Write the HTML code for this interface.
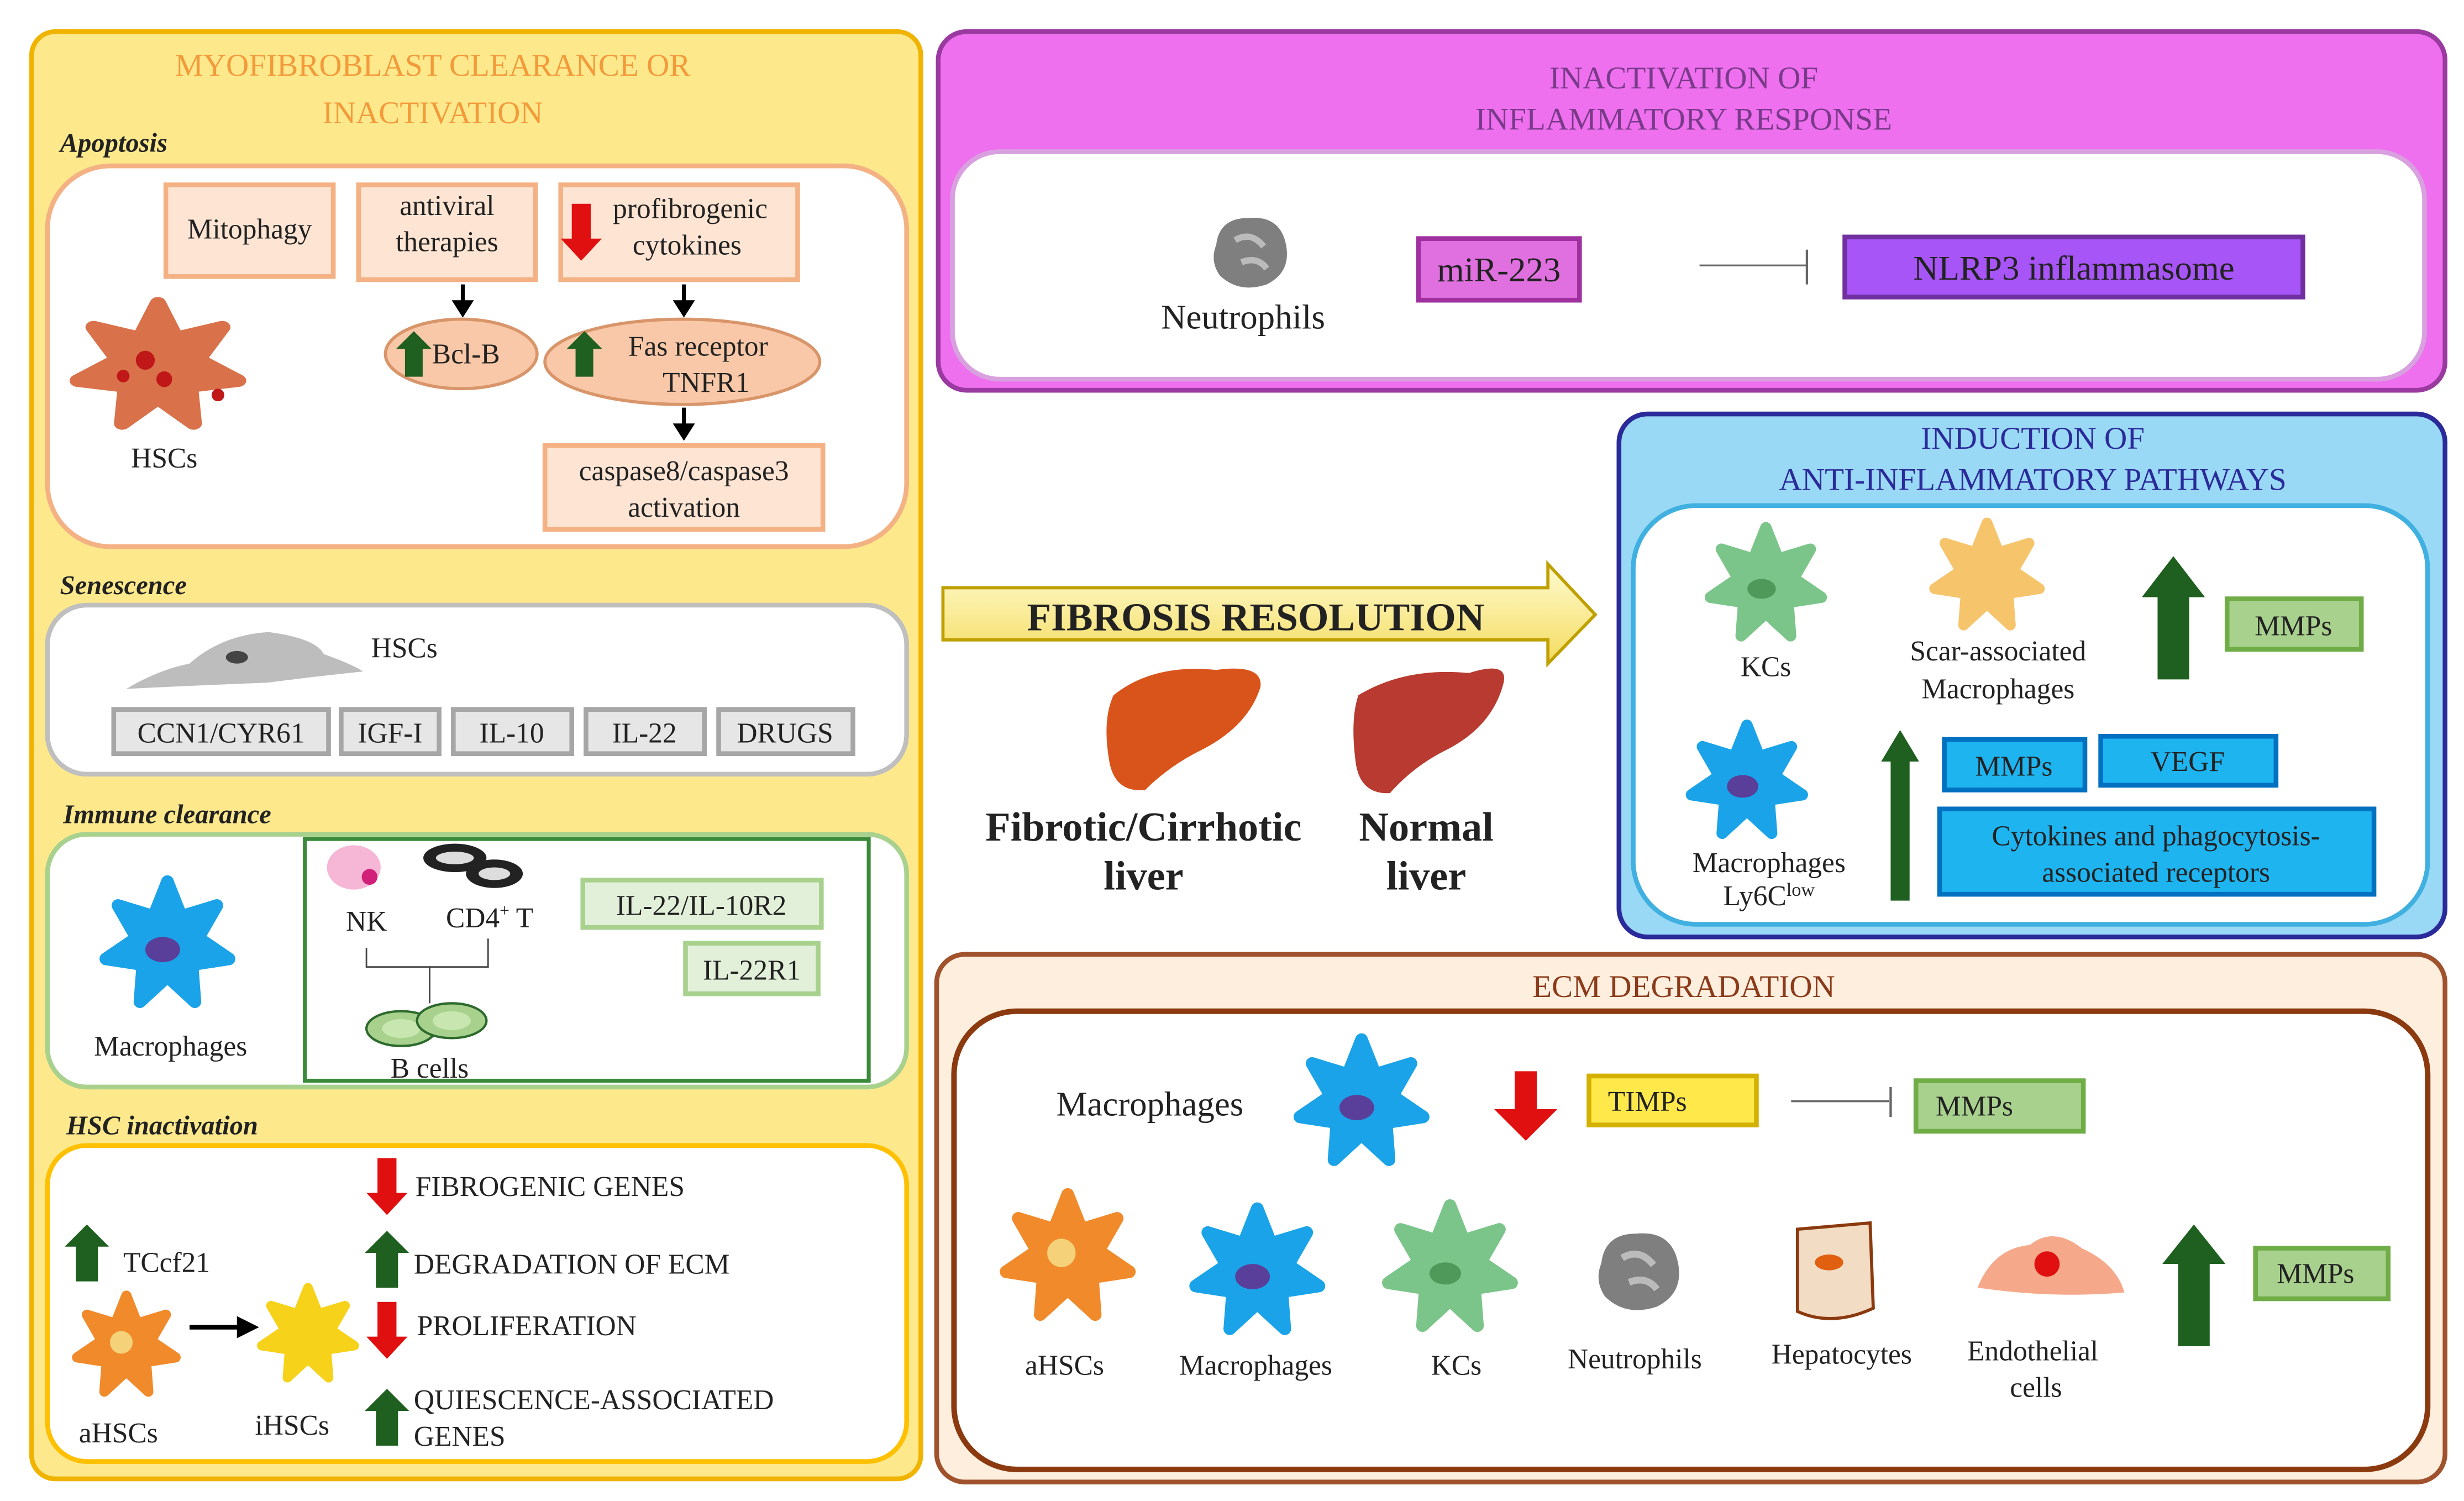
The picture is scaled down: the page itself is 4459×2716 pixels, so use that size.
<!DOCTYPE html>
<html><head><meta charset="utf-8"><style>
html,body{margin:0;padding:0;background:#fff;}
svg{display:block;}
text{font-family:"Liberation Serif",serif;fill:#222;}
</style></head><body>
<svg width="4459" height="2716" viewBox="0 0 1560 950" preserveAspectRatio="none" xmlns="http://www.w3.org/2000/svg">
<defs>
<g id="star"><polygon points="0,-40 8.7,-18 31.3,-24.9 19.5,-4.4 39,8.9 15.6,12.5 17.4,36 0,20 -17.4,36 -15.6,12.5 -39,8.9 -19.5,-4.4 -31.3,-24.9 -8.7,-18" stroke-width="8" stroke-linejoin="round"/></g>
<g id="blue"><use href="#star" fill="#1aa3e8" stroke="#1aa3e8"/><ellipse cx="-3" cy="3" rx="11" ry="8" fill="#5a3f9a"/></g>
<g id="green"><use href="#star" fill="#7cc58a" stroke="#7cc58a"/><ellipse cx="-3" cy="3" rx="10" ry="7" fill="#4f9a5a"/></g>
<g id="orange"><use href="#star" fill="#f08a2a" stroke="#f08a2a"/><circle cx="-4" cy="-3" r="9" fill="#f5d27a"/></g>
<g id="yel"><use href="#star" fill="#f6c46a" stroke="#f6c46a"/></g>
<g id="neu"><path d="M-22,-5 Q-20,-22 -2,-22 Q18,-24 22,-6 Q26,12 10,20 Q-8,26 -20,14 Q-26,5 -22,-5Z" fill="#7f7f7f"/><path d="M-10,-8 Q0,-14 8,-4 M-6,6 Q4,2 10,10" stroke="#bbb" stroke-width="4" fill="none"/></g>
<g id="up"><polygon points="-7,18 7,18 7,-4 14,-4 0,-18 -14,-4 -7,-4" fill="#1f5f1f"/></g>
<g id="down"><polygon points="-6,-18 6,-18 6,4 13,4 0,18 -13,4 -6,4" fill="#e01010"/></g>
</defs>

<!-- LEFT PANEL -->
<rect x="20" y="20" width="563" height="916" rx="15" fill="#fde98c" stroke="#f0b400" stroke-width="3"/>
<text x="274" y="48" text-anchor="middle" font-size="20" style="fill:#f39a3a">MYOFIBROBLAST CLEARANCE OR</text>
<text x="274" y="78" text-anchor="middle" font-size="20" style="fill:#f39a3a">INACTIVATION</text>
<text x="38" y="96" font-size="17" font-style="italic" font-weight="bold">Apoptosis</text>
<rect x="30" y="105" width="544" height="241" rx="40" fill="#fff" stroke="#f4b183" stroke-width="3"/>
<rect x="105" y="117" width="106" height="58" fill="#fde4d3" stroke="#f4b183" stroke-width="3"/>
<text x="158" y="151" text-anchor="middle" font-size="18">Mitophagy</text>
<rect x="227" y="117" width="112" height="60" fill="#fde4d3" stroke="#f4b183" stroke-width="3"/>
<text x="283" y="136" text-anchor="middle" font-size="18">antiviral</text>
<text x="283" y="159" text-anchor="middle" font-size="18">therapies</text>
<rect x="355" y="117" width="150" height="60" fill="#fde4d3" stroke="#f4b183" stroke-width="3"/>
<use href="#down" transform="translate(368,147)"/>
<text x="437" y="138" text-anchor="middle" font-size="18">profibrogenic</text>
<text x="435" y="161" text-anchor="middle" font-size="18">cytokines</text>
<ellipse cx="292" cy="224" rx="48" ry="22" fill="#f8c8a8" stroke="#d9956a" stroke-width="2"/>
<use href="#up" transform="translate(262,224) scale(0.8)"/>
<text x="295" y="230" text-anchor="middle" font-size="18">Bcl-B</text>
<ellipse cx="432" cy="229" rx="87" ry="27" fill="#f8c8a8" stroke="#d9956a" stroke-width="2"/>
<use href="#up" transform="translate(370,224) scale(0.8)"/>
<text x="442" y="225" text-anchor="middle" font-size="18">Fas receptor</text>
<text x="447" y="248" text-anchor="middle" font-size="18">TNFR1</text>
<g stroke="#000" stroke-width="2.5"><line x1="293" y1="180" x2="293" y2="192"/><line x1="433" y1="180" x2="433" y2="192"/><line x1="433" y1="258" x2="433" y2="270"/></g>
<polygon points="286,190 300,190 293,201" fill="#000"/><polygon points="426,190 440,190 433,201" fill="#000"/><polygon points="426,268 440,268 433,279" fill="#000"/>
<rect x="345" y="282" width="176" height="53" fill="#fde4d3" stroke="#f4b183" stroke-width="3"/>
<text x="433" y="304" text-anchor="middle" font-size="18">caspase8/caspase3</text>
<text x="433" y="327" text-anchor="middle" font-size="18">activation</text>
<use href="#star" transform="translate(100,232) scale(1.3,1.0)" fill="#d9714a" stroke="#d9714a"/>
<circle cx="92" cy="228" r="6" fill="#c01818"/><circle cx="104" cy="240" r="5" fill="#c01818"/><circle cx="78" cy="238" r="4" fill="#c01818"/><circle cx="138" cy="250" r="4" fill="#c01818"/>
<text x="104" y="296" text-anchor="middle" font-size="18">HSCs</text>

<text x="38" y="376" font-size="17" font-style="italic" font-weight="bold">Senescence</text>
<rect x="30" y="383" width="544" height="107" rx="25" fill="#fff" stroke="#bfbfbf" stroke-width="3"/>
<path d="M80,436 Q100,424 120,420 Q140,402 170,400 Q200,404 205,414 Q222,420 230,425 Q200,428 170,432 Q120,434 80,436Z" fill="#bdbdbd"/>
<ellipse cx="150" cy="416" rx="7" ry="4" fill="#444"/>
<text x="256" y="416" text-anchor="middle" font-size="18">HSCs</text>
<g fill="#e7e6e6" stroke="#a6a6a6" stroke-width="3">
<rect x="72" y="449" width="136" height="28"/><rect x="216" y="449" width="62" height="28"/><rect x="287" y="449" width="75" height="28"/><rect x="371" y="449" width="75" height="28"/><rect x="455" y="449" width="85" height="28"/></g>
<g font-size="18" text-anchor="middle"><text x="140" y="470">CCN1/CYR61</text><text x="247" y="470">IGF-I</text><text x="324" y="470">IL-10</text><text x="408" y="470">IL-22</text><text x="497" y="470">DRUGS</text></g>

<text x="40" y="521" font-size="17" font-style="italic" font-weight="bold">Immune clearance</text>
<rect x="30" y="528" width="544" height="160" rx="25" fill="#fff" stroke="#a9d18e" stroke-width="3"/>
<rect x="193" y="531" width="357" height="153" fill="#fff" stroke="#3a8a3a" stroke-width="2.5"/>
<use href="#blue" transform="translate(106,598)"/>
<text x="108" y="668" text-anchor="middle" font-size="18">Macrophages</text>
<ellipse cx="224" cy="549" rx="17" ry="14" fill="#f6b6d6"/><circle cx="234" cy="555" r="5" fill="#d0207a"/>
<text x="232" y="589" text-anchor="middle" font-size="18">NK</text>
<ellipse cx="288" cy="543" rx="20" ry="9" fill="#222"/><ellipse cx="288" cy="543" rx="12" ry="4" fill="#ddd"/>
<ellipse cx="313" cy="553" rx="18" ry="9" fill="#222"/><ellipse cx="313" cy="553" rx="10" ry="4" fill="#ddd"/>
<text x="310" y="587" text-anchor="middle" font-size="18">CD4<tspan font-size="11" dy="-7">+</tspan><tspan dy="7"> T</tspan></text>
<ellipse cx="254" cy="651" rx="22" ry="11" fill="#a9d18e" stroke="#2d6a2d" stroke-width="1.5"/><ellipse cx="254" cy="651" rx="12" ry="6" fill="#c8e6b0"/>
<ellipse cx="286" cy="646" rx="22" ry="11" fill="#a9d18e" stroke="#2d6a2d" stroke-width="1.5"/><ellipse cx="286" cy="646" rx="12" ry="6" fill="#c8e6b0"/>
<text x="272" y="682" text-anchor="middle" font-size="18">B cells</text>
<g stroke="#444" stroke-width="1" fill="none"><polyline points="272,635 272,612 232,612 232,600"/><polyline points="272,612 309,612 309,594"/></g>
<rect x="369" y="557" width="151" height="30" fill="#e2f0d9" stroke="#a9d18e" stroke-width="3"/>
<text x="444" y="579" text-anchor="middle" font-size="18">IL-22/IL-10R2</text>
<rect x="434" y="597" width="84" height="32" fill="#e2f0d9" stroke="#a9d18e" stroke-width="3"/>
<text x="476" y="620" text-anchor="middle" font-size="18">IL-22R1</text>

<text x="42" y="718" font-size="17" font-style="italic" font-weight="bold">HSC inactivation</text>
<rect x="30" y="725" width="544" height="200" rx="25" fill="#fff" stroke="#ffc000" stroke-width="3"/>
<use href="#down" transform="translate(245,751)"/>
<text x="263" y="757" font-size="18">FIBROGENIC GENES</text>
<use href="#up" transform="translate(245,797)"/>
<text x="262" y="806" font-size="18">DEGRADATION OF ECM</text>
<use href="#down" transform="translate(245,842)"/>
<text x="264" y="845" font-size="18">PROLIFERATION</text>
<use href="#up" transform="translate(245,897)"/>
<text x="262" y="892" font-size="18">QUIESCENCE-ASSOCIATED</text>
<text x="262" y="915" font-size="18">GENES</text>
<use href="#up" transform="translate(55,793)"/>
<text x="78" y="805" font-size="18">TCcf21</text>
<use href="#orange" transform="translate(80,852) scale(0.8)"/>
<line x1="120" y1="840" x2="152" y2="840" stroke="#000" stroke-width="3"/><polygon points="150,833 164,840 150,847" fill="#000"/>
<use href="#star" transform="translate(195,845) scale(0.75)" fill="#f6d21a" stroke="#f6d21a"/>
<text x="75" y="913" text-anchor="middle" font-size="18">aHSCs</text>
<text x="185" y="908" text-anchor="middle" font-size="18">iHSCs</text>

<!-- INFLAMMATORY -->
<rect x="594" y="20" width="954" height="227" rx="18" fill="#ee70ee" stroke="#9a3aa0" stroke-width="3"/>
<text x="1066" y="56" text-anchor="middle" font-size="20" style="fill:#7a3a8a">INACTIVATION OF</text>
<text x="1066" y="82" text-anchor="middle" font-size="20" style="fill:#7a3a8a">INFLAMMATORY RESPONSE</text>
<rect x="603" y="96" width="932" height="144" rx="30" fill="#fff" stroke="#d9a0e0" stroke-width="3"/>
<use href="#neu" transform="translate(792,160)"/>
<text x="787" y="208" text-anchor="middle" font-size="22">Neutrophils</text>
<rect x="898" y="151" width="102" height="39" fill="#e070e0" stroke="#a030a0" stroke-width="3"/>
<text x="949" y="178" text-anchor="middle" font-size="22">miR-223</text>
<line x1="1076" y1="168" x2="1144" y2="168" stroke="#666" stroke-width="1.2"/><line x1="1144" y1="158" x2="1144" y2="180" stroke="#666" stroke-width="1.5"/>
<rect x="1168" y="150" width="290" height="38" fill="#a855f7" stroke="#7030a0" stroke-width="3"/>
<text x="1313" y="177" text-anchor="middle" font-size="22">NLRP3 inflammasome</text>

<!-- FIBROSIS RESOLUTION -->
<defs><linearGradient id="yg" x1="0" y1="0" x2="0" y2="1"><stop offset="0" stop-color="#fffbd0"/><stop offset="1" stop-color="#f4dc60"/></linearGradient></defs>
<polygon points="597,372 980,372 980,357 1010,389 980,420 980,405 597,405" fill="url(#yg)" stroke="#c0a000" stroke-width="2"/>
<text x="795" y="399" text-anchor="middle" font-size="25" font-weight="bold">FIBROSIS RESOLUTION</text>
<path d="M705,440 Q730,420 770,424 Q800,420 798,435 Q790,460 760,475 Q740,485 725,500 Q705,502 702,480 Q698,455 705,440Z" fill="#d9541a"/>
<path d="M860,440 Q890,422 930,426 Q955,418 952,432 Q945,460 915,475 Q895,485 880,502 Q860,503 858,480 Q855,455 860,440Z" fill="#b83a30"/>
<text x="724" y="532" text-anchor="middle" font-size="26" font-weight="bold">Fibrotic/Cirrhotic</text>
<text x="724" y="563" text-anchor="middle" font-size="26" font-weight="bold">liver</text>
<text x="903" y="532" text-anchor="middle" font-size="26" font-weight="bold">Normal</text>
<text x="903" y="563" text-anchor="middle" font-size="26" font-weight="bold">liver</text>

<!-- ANTI-INFLAMMATORY -->
<rect x="1025" y="262" width="523" height="331" rx="18" fill="#9ad9f5" stroke="#2a2a9a" stroke-width="3"/>
<text x="1287" y="284" text-anchor="middle" font-size="20" style="fill:#2a2a9a">INDUCTION OF</text>
<text x="1287" y="310" text-anchor="middle" font-size="20" style="fill:#2a2a9a">ANTI-INFLAMMATORY PATHWAYS</text>
<rect x="1034" y="320" width="503" height="265" rx="40" fill="#fff" stroke="#40b0e0" stroke-width="3"/>
<use href="#green" transform="translate(1118,370) scale(0.9)"/>
<text x="1118" y="428" text-anchor="middle" font-size="18">KCs</text>
<use href="#yel" transform="translate(1258,365) scale(0.85)"/>
<text x="1265" y="418" text-anchor="middle" font-size="18">Scar-associated</text>
<text x="1265" y="442" text-anchor="middle" font-size="18">Macrophages</text>
<polygon points="1366,430 1386,430 1386,378 1396,378 1376,352 1356,378 1366,378" fill="#1f5f1f"/>
<rect x="1410" y="379" width="85" height="32" fill="#a9d18e" stroke="#70ad47" stroke-width="3"/>
<text x="1452" y="402" text-anchor="middle" font-size="18">MMPs</text>
<use href="#blue" transform="translate(1106,495) scale(0.9)"/>
<text x="1120" y="552" text-anchor="middle" font-size="18">Macrophages</text>
<text x="1120" y="573" text-anchor="middle" font-size="18">Ly6C<tspan font-size="12" dy="-6">low</tspan></text>
<polygon points="1197,570 1209,570 1209,482 1215,482 1203,462 1191,482 1197,482" fill="#1f5f1f"/>
<rect x="1231" y="468" width="89" height="32" fill="#1eb4f0" stroke="#0070c0" stroke-width="3"/>
<text x="1275" y="491" text-anchor="middle" font-size="18">MMPs</text>
<rect x="1330" y="466" width="111" height="31" fill="#1eb4f0" stroke="#0070c0" stroke-width="3"/>
<text x="1385" y="488" text-anchor="middle" font-size="18">VEGF</text>
<rect x="1228" y="512" width="275" height="54" fill="#1eb4f0" stroke="#0070c0" stroke-width="3"/>
<text x="1365" y="535" text-anchor="middle" font-size="18">Cytokines and  phagocytosis-</text>
<text x="1365" y="558" text-anchor="middle" font-size="18">associated receptors</text>

<!-- ECM -->
<rect x="593" y="604" width="955" height="334" rx="18" fill="#fdeede" stroke="#a0522d" stroke-width="3"/>
<text x="1066" y="631" text-anchor="middle" font-size="20" style="fill:#8b3a1a">ECM DEGRADATION</text>
<rect x="604" y="640" width="933" height="290" rx="40" fill="#fff" stroke="#8b3a0f" stroke-width="3.5"/>
<text x="728" y="706" text-anchor="middle" font-size="22">Macrophages</text>
<use href="#blue" transform="translate(862,698)"/>
<polygon points="959,678 973,678 973,702 986,702 966,722 946,702 959,702" fill="#e01010"/>
<rect x="1006" y="681" width="106" height="31" fill="#ffe84a" stroke="#d4b000" stroke-width="3"/>
<text x="1043" y="703" text-anchor="middle" font-size="18">TIMPs</text>
<line x1="1134" y1="697" x2="1196" y2="697" stroke="#666" stroke-width="1.2"/><line x1="1197" y1="688" x2="1197" y2="707" stroke="#666" stroke-width="1.5"/>
<rect x="1213" y="684" width="106" height="32" fill="#a9d18e" stroke="#70ad47" stroke-width="3"/>
<text x="1250" y="706" text-anchor="middle" font-size="18">MMPs</text>
<use href="#orange" transform="translate(676,796)"/>
<use href="#blue" transform="translate(796,805)"/>
<use href="#green" transform="translate(918,803)"/>
<use href="#neu" transform="translate(1038,805) scale(1.1)"/>
<path d="M1138,778 L1184,774 L1186,828 Q1160,840 1138,830Z" fill="#f3dcc4" stroke="#8b3a0f" stroke-width="2"/>
<ellipse cx="1158" cy="799" rx="9" ry="5" fill="#e06010"/>
<path d="M1252,815 Q1262,790 1285,788 Q1300,776 1318,790 Q1340,800 1345,818 Q1300,822 1252,815Z" fill="#f6a98a"/>
<circle cx="1296" cy="800" r="8" fill="#e01010"/>
<polygon points="1379,852 1399,852 1399,800 1409,800 1389,775 1369,800 1379,800" fill="#1f5f1f"/>
<rect x="1428" y="790" width="84" height="32" fill="#a9d18e" stroke="#70ad47" stroke-width="3"/>
<text x="1466" y="812" text-anchor="middle" font-size="18">MMPs</text>
<g font-size="18" text-anchor="middle">
<text x="674" y="870">aHSCs</text><text x="795" y="870">Macrophages</text><text x="922" y="870">KCs</text><text x="1035" y="866">Neutrophils</text><text x="1166" y="863">Hepatocytes</text><text x="1287" y="861">Endothelial</text><text x="1289" y="884">cells</text></g>
</svg>
</body></html>
